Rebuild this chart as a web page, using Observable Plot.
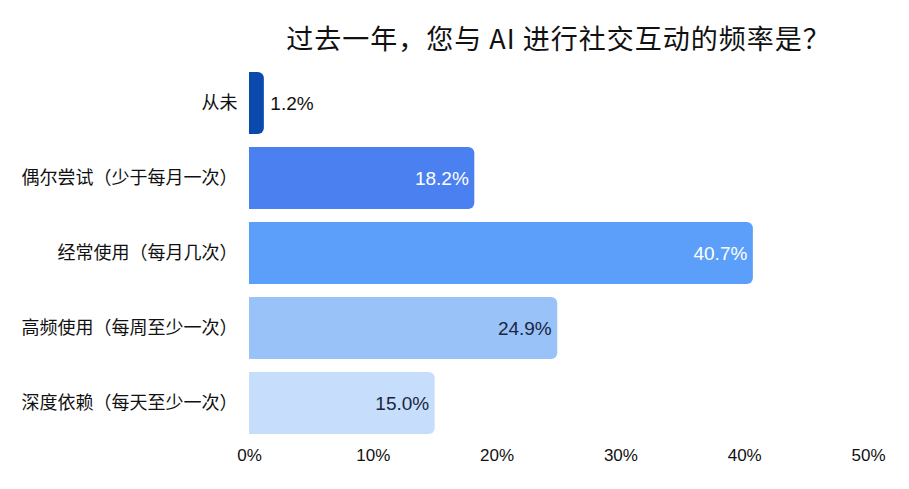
<!DOCTYPE html>
<html>
<head>
<meta charset="utf-8">
<script src="https://cdn.jsdelivr.net/npm/d3@7"></script>
<script src="https://cdn.jsdelivr.net/npm/@observablehq/plot@0.6"></script>
<style>
  html, body { margin: 0; padding: 0; background: #fff; }
  body { width: 909px; height: 489px; overflow: hidden; font-family: "Noto Sans CJK SC", "Noto Sans", sans-serif; }
  #title { box-sizing: border-box; height: 60px; padding-top: 24px; margin-left: 249px; margin-right: 41px;
    text-align: center; font-size: 27px; line-height: 27px; letter-spacing: 1px; color: #111; font-weight: 400;
    white-space: nowrap; }
</style>
</head>
<body>
<div id="title">过去一年，您与 AI 进行社交互动的频率是？</div>
<div id="chart"></div>
<script>
const categories = ["从未", "偶尔尝试（少于每月一次）", "经常使用（每月几次）", "高频使用（每周至少一次）", "深度依赖（每天至少一次）"];
const values = [1.2, 18.2, 40.7, 24.9, 15.0];
const colors = ["#0b4aad", "#4a80f0", "#5b9ffa", "#99c3f8", "#c6defc"];
const labelColors = ["#111", "#fff", "#fff", "#1a2540", "#1a2540"];
const xTicks = [0, 10, 20, 30, 40, 50];

const data = categories.map((c, i) => ({
  cat: c, v: values[i], color: colors[i], lc: labelColors[i], inside: values[i] > 5
}));

const numFont = "'Liberation Sans', Arial, sans-serif";

const plot = Plot.plot({
  width: 909,
  height: 429,
  marginLeft: 249,
  marginRight: 41,
  marginTop: 10,
  marginBottom: 52,
  style: { fontFamily: "'Noto Sans CJK SC', 'Noto Sans', sans-serif", fontSize: "18px", color: "#111" },
  x: { domain: [0, 50], ticks: xTicks, tickFormat: d => d + "%", label: null },
  y: { domain: categories, paddingInner: 0.17, paddingOuter: 0, label: null },
  marks: [
    Plot.barX(data, { x: "v", y: "cat", fill: "color", rx: 6 }),
    Plot.barX(data, { x1: 0, x2: d => d.v / 2, y: "cat", fill: "color" }),
    Plot.text(data.filter(d => d.inside), { x: "v", y: "cat", text: d => d.v.toFixed(1) + "%", fill: "lc",
      textAnchor: "end", dx: -6, fontSize: 19, fontFamily: numFont }),
    Plot.text(data.filter(d => !d.inside), { x: "v", y: "cat", text: d => d.v.toFixed(1) + "%", fill: "lc",
      textAnchor: "start", dx: 6, fontSize: 19, fontFamily: numFont }),
    Plot.axisX({ ticks: xTicks, tickFormat: d => d + "%", tickSize: 0, tickPadding: 11, fontSize: 17,
      fontFamily: numFont, label: null }),
    Plot.axisY({ tickSize: 0, tickPadding: 12, fontSize: 18, label: null })
  ]
});
document.getElementById("chart").appendChild(plot);
</script>
</body>
</html>
